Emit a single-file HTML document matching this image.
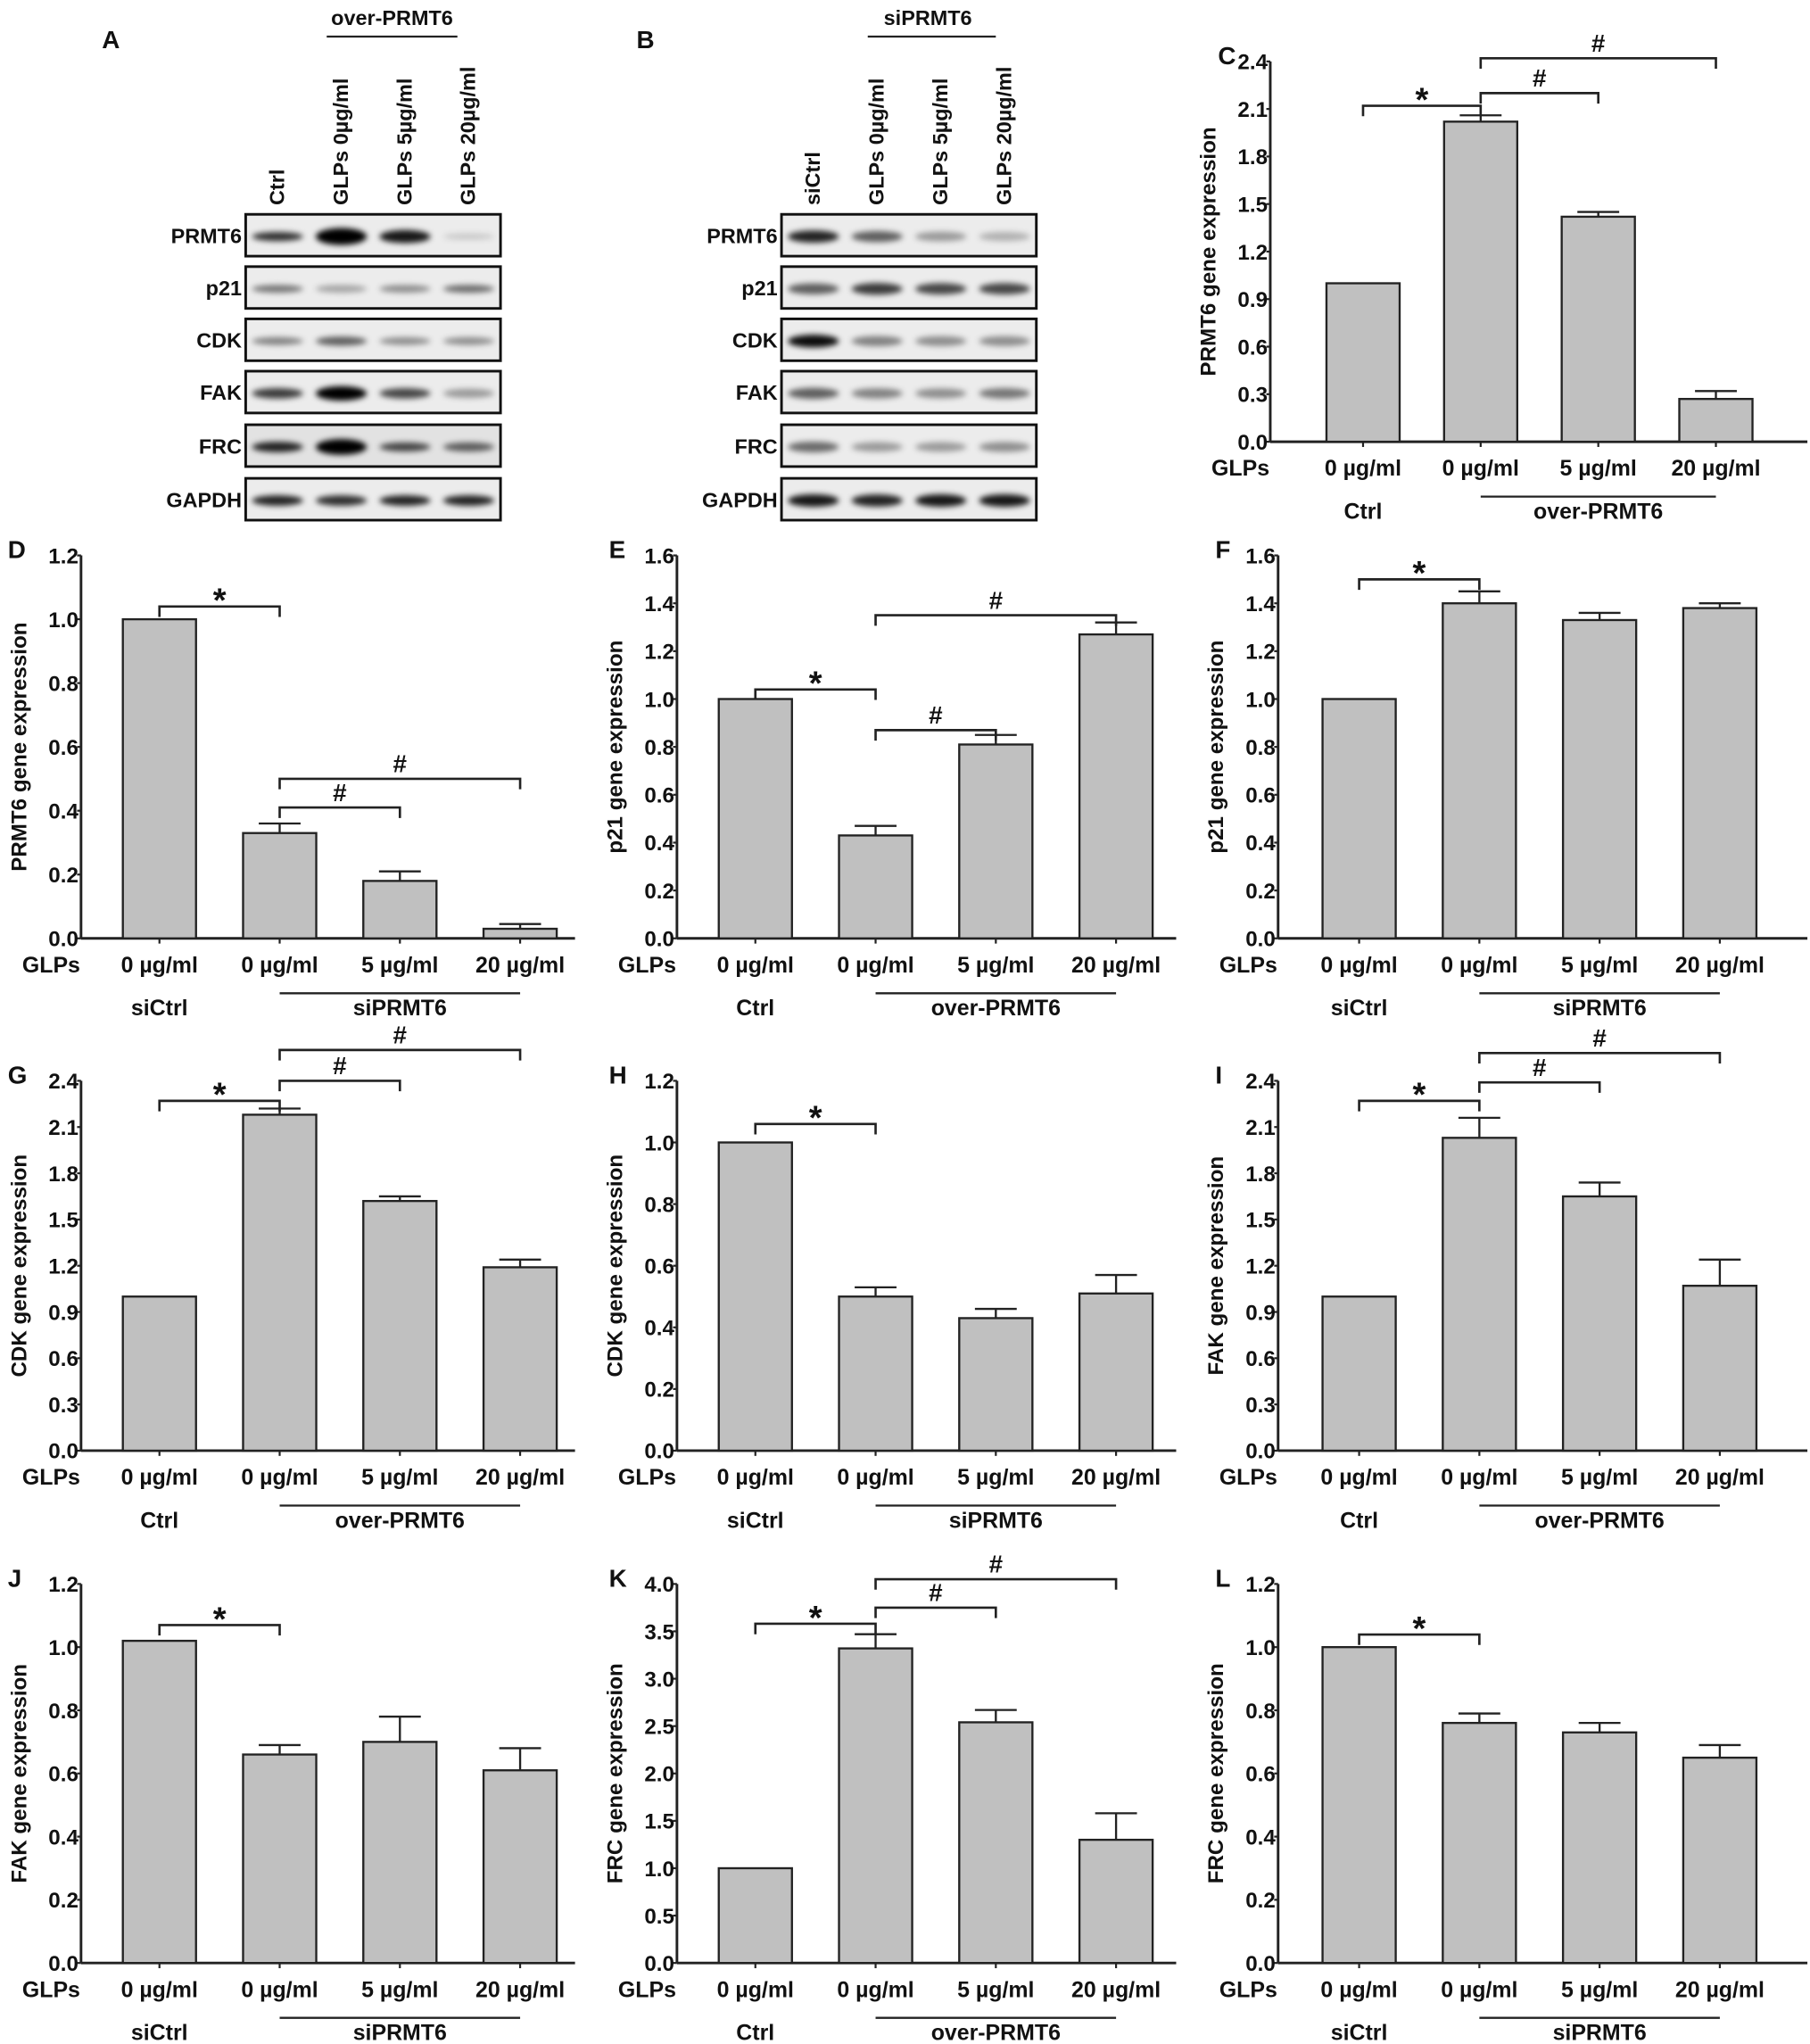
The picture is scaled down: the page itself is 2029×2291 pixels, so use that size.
<!DOCTYPE html>
<html><head><meta charset="utf-8"><style>
html,body{margin:0;padding:0;background:#fff}
svg{display:block}
text{font-family:"Liberation Sans",Arial,sans-serif;font-weight:bold;fill:#111}
</style></head><body>
<svg id="fig" width="2029" height="2291" viewBox="0 0 1385 1564" preserveAspectRatio="none" xmlns="http://www.w3.org/2000/svg">
<defs><filter id="blur" x="-20%" y="-100%" width="140%" height="300%"><feGaussianBlur stdDeviation="2.2"/></filter></defs>
</svg>
<script>
// ---- chart data ----
const xCats = ["0 µg/ml","0 µg/ml","5 µg/ml","20 µg/ml"];
const valsC = [1.0, 2.02, 1.42, 0.27]; const errC = [0, 0.04, 0.03, 0.05];
const valsD = [1.0, 0.33, 0.18, 0.03]; const errD = [0, 0.03, 0.03, 0.015];
const valsE = [1.0, 0.43, 0.81, 1.27]; const errE = [0, 0.04, 0.04, 0.05];
const valsF = [1.0, 1.40, 1.33, 1.38]; const errF = [0, 0.05, 0.03, 0.02];
const valsG = [1.0, 2.18, 1.62, 1.19]; const errG = [0, 0.04, 0.03, 0.05];
const valsH = [1.0, 0.50, 0.43, 0.51]; const errH = [0, 0.03, 0.03, 0.06];
const valsI = [1.0, 2.03, 1.65, 1.07]; const errI = [0, 0.13, 0.09, 0.17];
const valsJ = [1.02, 0.66, 0.70, 0.61]; const errJ = [0, 0.03, 0.08, 0.07];
const valsK = [1.0, 3.32, 2.54, 1.30]; const errK = [0, 0.15, 0.13, 0.28];
const valsL = [1.0, 0.76, 0.73, 0.65]; const errL = [0, 0.03, 0.03, 0.04];
const ticks24 = ["0.0","0.3","0.6","0.9","1.2","1.5","1.8","2.1","2.4"];
const ticks12 = ["0.0","0.2","0.4","0.6","0.8","1.0","1.2"];
const ticks16 = ["0.0","0.2","0.4","0.6","0.8","1.0","1.2","1.4","1.6"];
const ticks40 = ["0.0","0.5","1.0","1.5","2.0","2.5","3.0","3.5","4.0"];
const sigC = [[0,1,2.12,"*"],[1,2,2.2,"#"],[1,3,2.42,"#"]];
const sigD = [[0,1,1.04,"*"],[1,2,0.41,"#"],[1,3,0.5,"#"]];
const sigE = [[0,1,1.04,"*"],[1,2,0.87,"#"],[1,3,1.35,"#"]];
const sigF = [[0,1,1.5,"*"]];
const sigG = [[0,1,2.27,"*"],[1,2,2.4,"#"],[1,3,2.6,"#"]];
const sigH = [[0,1,1.06,"*"]];
const sigI = [[0,1,2.27,"*"],[1,2,2.39,"#"],[1,3,2.58,"#"]];
const sigJ = [[0,1,1.07,"*"]];
const sigK = [[0,1,3.58,"*"],[1,2,3.75,"#"],[1,3,4.05,"#"]];
const sigL = [[0,1,1.04,"*"]];

const NS="http://www.w3.org/2000/svg";
const svg=document.getElementById('fig');
function mk(tag,attrs,parent){const e=document.createElementNS(NS,tag);for(const k in attrs)e.setAttribute(k,attrs[k]);(parent||svg).appendChild(e);return e;}
function txt(s,attrs,parent){const e=mk('text',attrs,parent);e.textContent=s;return e;}

const panels=[
 {id:"C",letter:"C",lx:932,ax:972,right:1383,y0:338,top:47,vals:valsC,err:errC,ticks:ticks24,max:2.4,gene:"PRMT6",ctl:"Ctrl",grp:"over-PRMT6",sig:sigC,off:71,step:90},
 {id:"D",letter:"D",lx:6,ax:62,right:440,y0:718,top:425,vals:valsD,err:errD,ticks:ticks12,max:1.2,gene:"PRMT6",ctl:"siCtrl",grp:"siPRMT6",sig:sigD,off:60,step:92},
 {id:"E",letter:"E",lx:466,ax:518,right:900,y0:718,top:425,vals:valsE,err:errE,ticks:ticks16,max:1.6,gene:"p21",ctl:"Ctrl",grp:"over-PRMT6",sig:sigE,off:60,step:92},
 {id:"F",letter:"F",lx:930,ax:978,right:1383,y0:718,top:425,vals:valsF,err:errF,ticks:ticks16,max:1.6,gene:"p21",ctl:"siCtrl",grp:"siPRMT6",sig:sigF,off:62,step:92},
 {id:"G",letter:"G",lx:6,ax:62,right:440,y0:1110,top:827,vals:valsG,err:errG,ticks:ticks24,max:2.4,gene:"CDK",ctl:"Ctrl",grp:"over-PRMT6",sig:sigG,off:60,step:92},
 {id:"H",letter:"H",lx:466,ax:518,right:900,y0:1110,top:827,vals:valsH,err:errH,ticks:ticks12,max:1.2,gene:"CDK",ctl:"siCtrl",grp:"siPRMT6",sig:sigH,off:60,step:92},
 {id:"I",letter:"I",lx:930,ax:978,right:1383,y0:1110,top:827,vals:valsI,err:errI,ticks:ticks24,max:2.4,gene:"FAK",ctl:"Ctrl",grp:"over-PRMT6",sig:sigI,off:62,step:92},
 {id:"J",letter:"J",lx:6,ax:62,right:440,y0:1502,top:1212,vals:valsJ,err:errJ,ticks:ticks12,max:1.2,gene:"FAK",ctl:"siCtrl",grp:"siPRMT6",sig:sigJ,off:60,step:92},
 {id:"K",letter:"K",lx:466,ax:518,right:900,y0:1502,top:1212,vals:valsK,err:errK,ticks:ticks40,max:4.0,gene:"FRC",ctl:"Ctrl",grp:"over-PRMT6",sig:sigK,off:60,step:92},
 {id:"L",letter:"L",lx:930,ax:978,right:1383,y0:1502,top:1212,vals:valsL,err:errL,ticks:ticks12,max:1.2,gene:"FRC",ctl:"siCtrl",grp:"siPRMT6",sig:sigL,off:62,step:92}
];

panels.forEach(p=>{
  const g=mk('g',{});
  
  
  const yS=v=>p.y0-(v/p.max)*(p.y0-p.top);
  const xS=i=>p.ax+p.off+p.step*i;
  const bw=56;
  const L=txt(p.letter,{x:p.lx,y:p.top+2,'font-size':19},g);
  
  const ya=mk('line',{x1:p.ax,y1:p.top,x2:p.ax,y2:p.y0,stroke:'#222','stroke-width':2},g);
  
  const xa=mk('line',{x1:p.ax,y1:p.y0,x2:p.right,y2:p.y0,stroke:'#222','stroke-width':2},g);
  
  p.ticks.forEach(t=>{
    const y=yS(parseFloat(t));
    mk('line',{x1:p.ax-3,y1:y,x2:p.ax,y2:y,stroke:'#222','stroke-width':1.5},g);
    const tl=txt(t,{x:p.ax-2,y:y+6,'font-size':16.5,'text-anchor':'end'},g);
    
  });
  const yt=txt(p.gene+" gene expression",{x:0,y:0,'font-size':16.5,'text-anchor':'middle',transform:`translate(${p.ax-42},${(p.top+p.y0)/2}) rotate(-90)`},g);
  
  p.vals.forEach((v,i)=>{
    const x=xS(i);
    const b=mk('rect',{x:x-bw/2,y:yS(v),width:bw,height:p.y0-yS(v),fill:'#c0c0c0',stroke:'#222','stroke-width':1.6},g);
    
    if(p.err[i]>0){
      const e=mk('path',{d:`M${x},${yS(v)} V${yS(v+p.err[i])} M${x-16},${yS(v+p.err[i])} H${x+16}`,stroke:'#222','stroke-width':1.6,fill:'none'},g);
      
    }
    mk('line',{x1:x,y1:p.y0,x2:x,y2:p.y0+4,stroke:'#222','stroke-width':1.5},g);
    const xl=txt(xCats[i],{x:x,y:p.y0+26,'font-size':17,'text-anchor':'middle'},g);
    
  });
  const gl=txt("GLPs",{x:p.ax-45,y:p.y0+26,'font-size':17},g);
  
  const cl=txt(p.ctl,{x:xS(0),y:p.y0+59,'font-size':17,'text-anchor':'middle'},g);
  
  mk('line',{x1:xS(1),y1:p.y0+42,x2:xS(3),y2:p.y0+42,stroke:'#222','stroke-width':1.6},g);
  const tg=txt(p.grp,{x:(xS(1)+xS(3))/2,y:p.y0+59,'font-size':17,'text-anchor':'middle'},g);
  
  p.sig.forEach(s=>{
    const y=yS(s[2]);const x1=xS(s[0]),x2=xS(s[1]);
    const br=mk('path',{d:`M${x1},${y+8} V${y} H${x2} V${y+8}`,stroke:'#222','stroke-width':1.8,fill:'none'},g);
    
    const st=txt(s[3],{x:(x1+x2)/2,y:s[3]==="*"?y+4:y-5,'font-size':s[3]==="*"?26:19,'text-anchor':'middle'},g);
    
  });
});

// ---- western blots ----
const blotRows=["PRMT6","p21","CDK","FAK","FRC","GAPDH"];
const rowY=[180,220,260,300,341,382];
const intA=[[0.8,1,0.9,0.15],[0.5,0.3,0.4,0.55],[0.45,0.6,0.4,0.4],[0.75,1,0.7,0.35],[0.85,1,0.7,0.6],[0.85,0.8,0.85,0.85]];
const intB=[[0.85,0.6,0.35,0.25],[0.6,0.75,0.7,0.7],[0.95,0.45,0.4,0.4],[0.6,0.45,0.4,0.5],[0.55,0.35,0.35,0.4],[0.9,0.85,0.9,0.9]];
const thickA=[[5,11,8,3],[4,4,4,4],[4,5,4,4],[6,9,6,5],[6,10,5,5],[6,6,6,6]];
function blot(id,x0,ints,thick,lanes,header,hx,hline){
  const g=mk('g',{});
  
  
  const L=txt(id,{x:id==="A"?78:487,y:37,'font-size':19},g);
  
  const h=txt(header,{x:hx,y:19,'font-size':16,'text-anchor':'middle'},g);
  
  mk('line',{x1:hline[0],y1:28,x2:hline[1],y2:28,stroke:'#222','stroke-width':1.6},g);
  const w=195, lw=w/4;
  lanes.forEach((l,i)=>{
    const cx=x0+lw*(i+0.5)+5;
    const t=txt(l,{x:0,y:0,'font-size':16,transform:`translate(${cx},${157}) rotate(-90)`},g);
    
  });
  blotRows.forEach((r,ri)=>{
    const cy=rowY[ri];
    const rl=txt(r,{x:x0-3,y:cy+6,'font-size':16,'text-anchor':'end'},g);
    
    mk('rect',{x:x0,y:cy-16,width:w,height:32,fill:ri===4&&id==="A"?'#e2e2e2':'#ececec',stroke:'#111','stroke-width':2},g);
    ints[ri].forEach((v,li)=>{
      const cx=x0+lw*(li+0.5);
      const th=thick?thick[ri][li]:4+v*4;
      const b=mk('ellipse',{cx:cx,cy:cy+1,rx:lw*0.4,ry:th/2+1,fill:'#000','fill-opacity':v,filter:'url(#blur)'},g);
      
    });
  });
}
blot("A",188,intA,thickA,["Ctrl","GLPs 0µg/ml","GLPs 5µg/ml","GLPs 20µg/ml"],"over-PRMT6",300,[250,350]);
blot("B",598,intB,null,["siCtrl","GLPs 0µg/ml","GLPs 5µg/ml","GLPs 20µg/ml"],"siPRMT6",710,[664,762]);
</script>
</body></html>
